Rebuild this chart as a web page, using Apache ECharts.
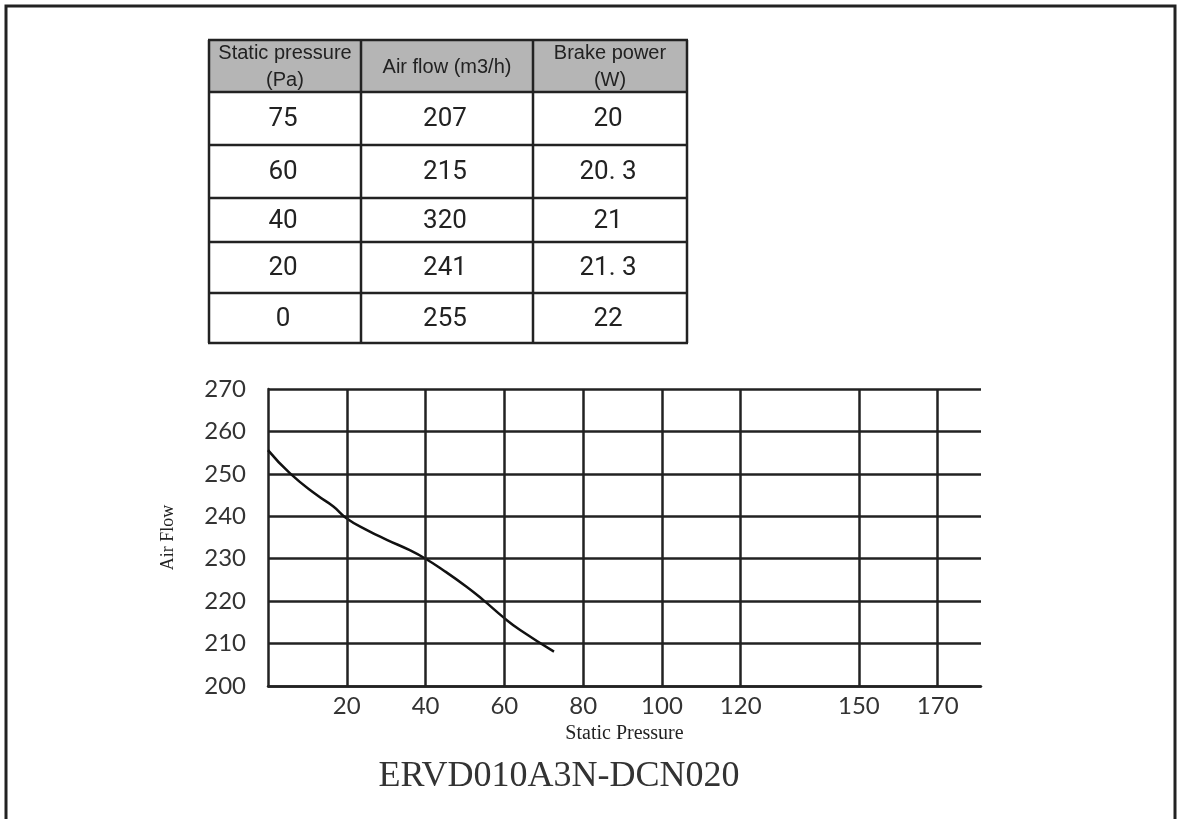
<!DOCTYPE html>
<html>
<head>
<meta charset="utf-8">
<title>ERVD010A3N-DCN020</title>
<script src="https://cdn.jsdelivr.net/npm/echarts@6/dist/echarts.min.js"></script>
<style>
  html, body { margin: 0; padding: 0; background: #fff; }
  #chart { width: 1179px; height: 819px; }
</style>
</head>
<body>
<div id="chart"></div>
<script>
// Performance table
const tableHeaders = [['Static pressure', '(Pa)'], ['Air flow (m3/h)'], ['Brake power', '(W)']];
const tablePressure = ['75', '60', '40', '20', '0'];
const tableAirFlow = ['207', '215', '320', '241', '255'];
const tableBrakePower = ['20', '20. 3', '21', '21. 3', '22'];

// Fan curve: static pressure (Pa) vs air flow (m3/h)
const curvePressure = [0, 5.6, 12.4, 16.6, 20, 25, 30.3, 36, 40, 44.5, 50.4, 54.6, 60, 64, 72.6];
const curveAirFlow = [255.6, 250.1, 245, 242.3, 239.5, 236.8, 234.4, 232, 230, 227.3, 223.4, 220.3, 216, 213.2, 208.1];

// Labelled pressure gridlines
const pressureTicks = [20, 40, 60, 80, 100, 120, 150, 170];

const modelName = 'ERVD010A3N-DCN020';

// Table layout
const colEdges = [209, 361, 533, 687];
const rowEdges = [40, 92, 145, 198, 242, 293, 343];
const ink = '#222';

function buildTable() {
  const els = [];
  const left = colEdges[0], right = colEdges[colEdges.length - 1];
  const top = rowEdges[0], bottom = rowEdges[rowEdges.length - 1];
  els.push({ type: 'rect', shape: { x: left, y: top, width: right - left, height: rowEdges[1] - top },
    style: { fill: '#b5b5b5' }, silent: true });
  rowEdges.forEach(y => els.push({ type: 'line', shape: { x1: left - 1, y1: y, x2: right + 1, y2: y },
    style: { stroke: ink, lineWidth: 2.5 }, silent: true }));
  colEdges.forEach(x => els.push({ type: 'line', shape: { x1: x, y1: top, x2: x, y2: bottom },
    style: { stroke: ink, lineWidth: 2.5 }, silent: true }));
  tableHeaders.forEach((lines, c) => {
    const cx = (colEdges[c] + colEdges[c + 1]) / 2;
    const cy = (rowEdges[0] + rowEdges[1]) / 2;
    const lh = 27;
    lines.forEach((t, i) => {
      els.push({ type: 'text', x: cx, y: cy + (i - (lines.length - 1) / 2) * lh + 1, silent: true,
        style: { text: t, fill: ink, font: '20px "Liberation Sans", Arial, sans-serif',
          align: 'center', verticalAlign: 'middle' } });
    });
  });
  const cols = [tablePressure, tableAirFlow, tableBrakePower];
  cols.forEach((vals, c) => {
    const cx = (colEdges[c] + colEdges[c + 1]) / 2;
    vals.forEach((v, r) => {
      const cy = (rowEdges[r + 1] + rowEdges[r + 2]) / 2;
      els.push({ type: 'text', x: cx - 2, y: cy + 1, silent: true,
        style: { text: v, fill: ink, font: '26px Roboto, "Liberation Sans", sans-serif',
          align: 'center', verticalAlign: 'middle' } });
    });
  });
  return els;
}

const chart = echarts.init(document.getElementById('chart'), null, { renderer: 'canvas' });

const gridLine = { color: ink, width: 2.5 };
const tickFont = { color: '#333', fontFamily: 'Lato, "Noto Sans", sans-serif', fontSize: 24 };

chart.setOption({
  animation: false,
  backgroundColor: '#fff',
  grid: { left: 268, top: 389, width: 713, height: 297, containLabel: false },
  xAxis: {
    type: 'value', min: 0, max: 181,
    name: 'Static Pressure', nameLocation: 'middle', nameGap: 38,
    nameTextStyle: { fontFamily: '"Liberation Serif", "Times New Roman", serif', fontSize: 20, color: ink },
    axisLine: { show: true, onZero: false, lineStyle: gridLine },
    axisTick: { show: false },
    splitLine: { show: false },
    axisLabel: Object.assign({ customValues: pressureTicks, margin: 8 }, tickFont)
  },
  yAxis: {
    type: 'value', min: 200, max: 270, interval: 10,
    name: 'Air Flow', nameLocation: 'middle', nameGap: 91, nameRotate: 90,
    nameTextStyle: { fontFamily: '"Liberation Serif", "Times New Roman", serif', fontSize: 18, color: ink },
    axisLine: { show: true, onZero: false, lineStyle: gridLine },
    axisTick: { show: false },
    splitLine: { show: true, lineStyle: gridLine },
    axisLabel: Object.assign({ margin: 22 }, tickFont)
  },
  series: [{
    type: 'line',
    data: curvePressure.map((p, i) => [p, curveAirFlow[i]]),
    smooth: 0.5,
    symbol: 'none',
    lineStyle: { color: '#111', width: 2.5 },
    silent: true,
    z: 3,
    markLine: {
      silent: true,
      symbol: 'none',
      label: { show: false },
      lineStyle: { color: ink, width: 2.5, type: 'solid' },
      data: pressureTicks.map(v => ({ xAxis: v }))
    }
  }],
  graphic: [
    { type: 'rect', shape: { x: 6, y: 6, width: 1169, height: 830 },
      style: { fill: 'none', stroke: ink, lineWidth: 3 }, silent: true, z: 0 },
    ...buildTable(),
    { type: 'text', x: 559, y: 777, silent: true,
      style: { text: modelName, fill: '#333', font: '36px "Liberation Serif", "Times New Roman", serif',
        align: 'center', verticalAlign: 'middle' } }
  ]
});
</script>
</body>
</html>
